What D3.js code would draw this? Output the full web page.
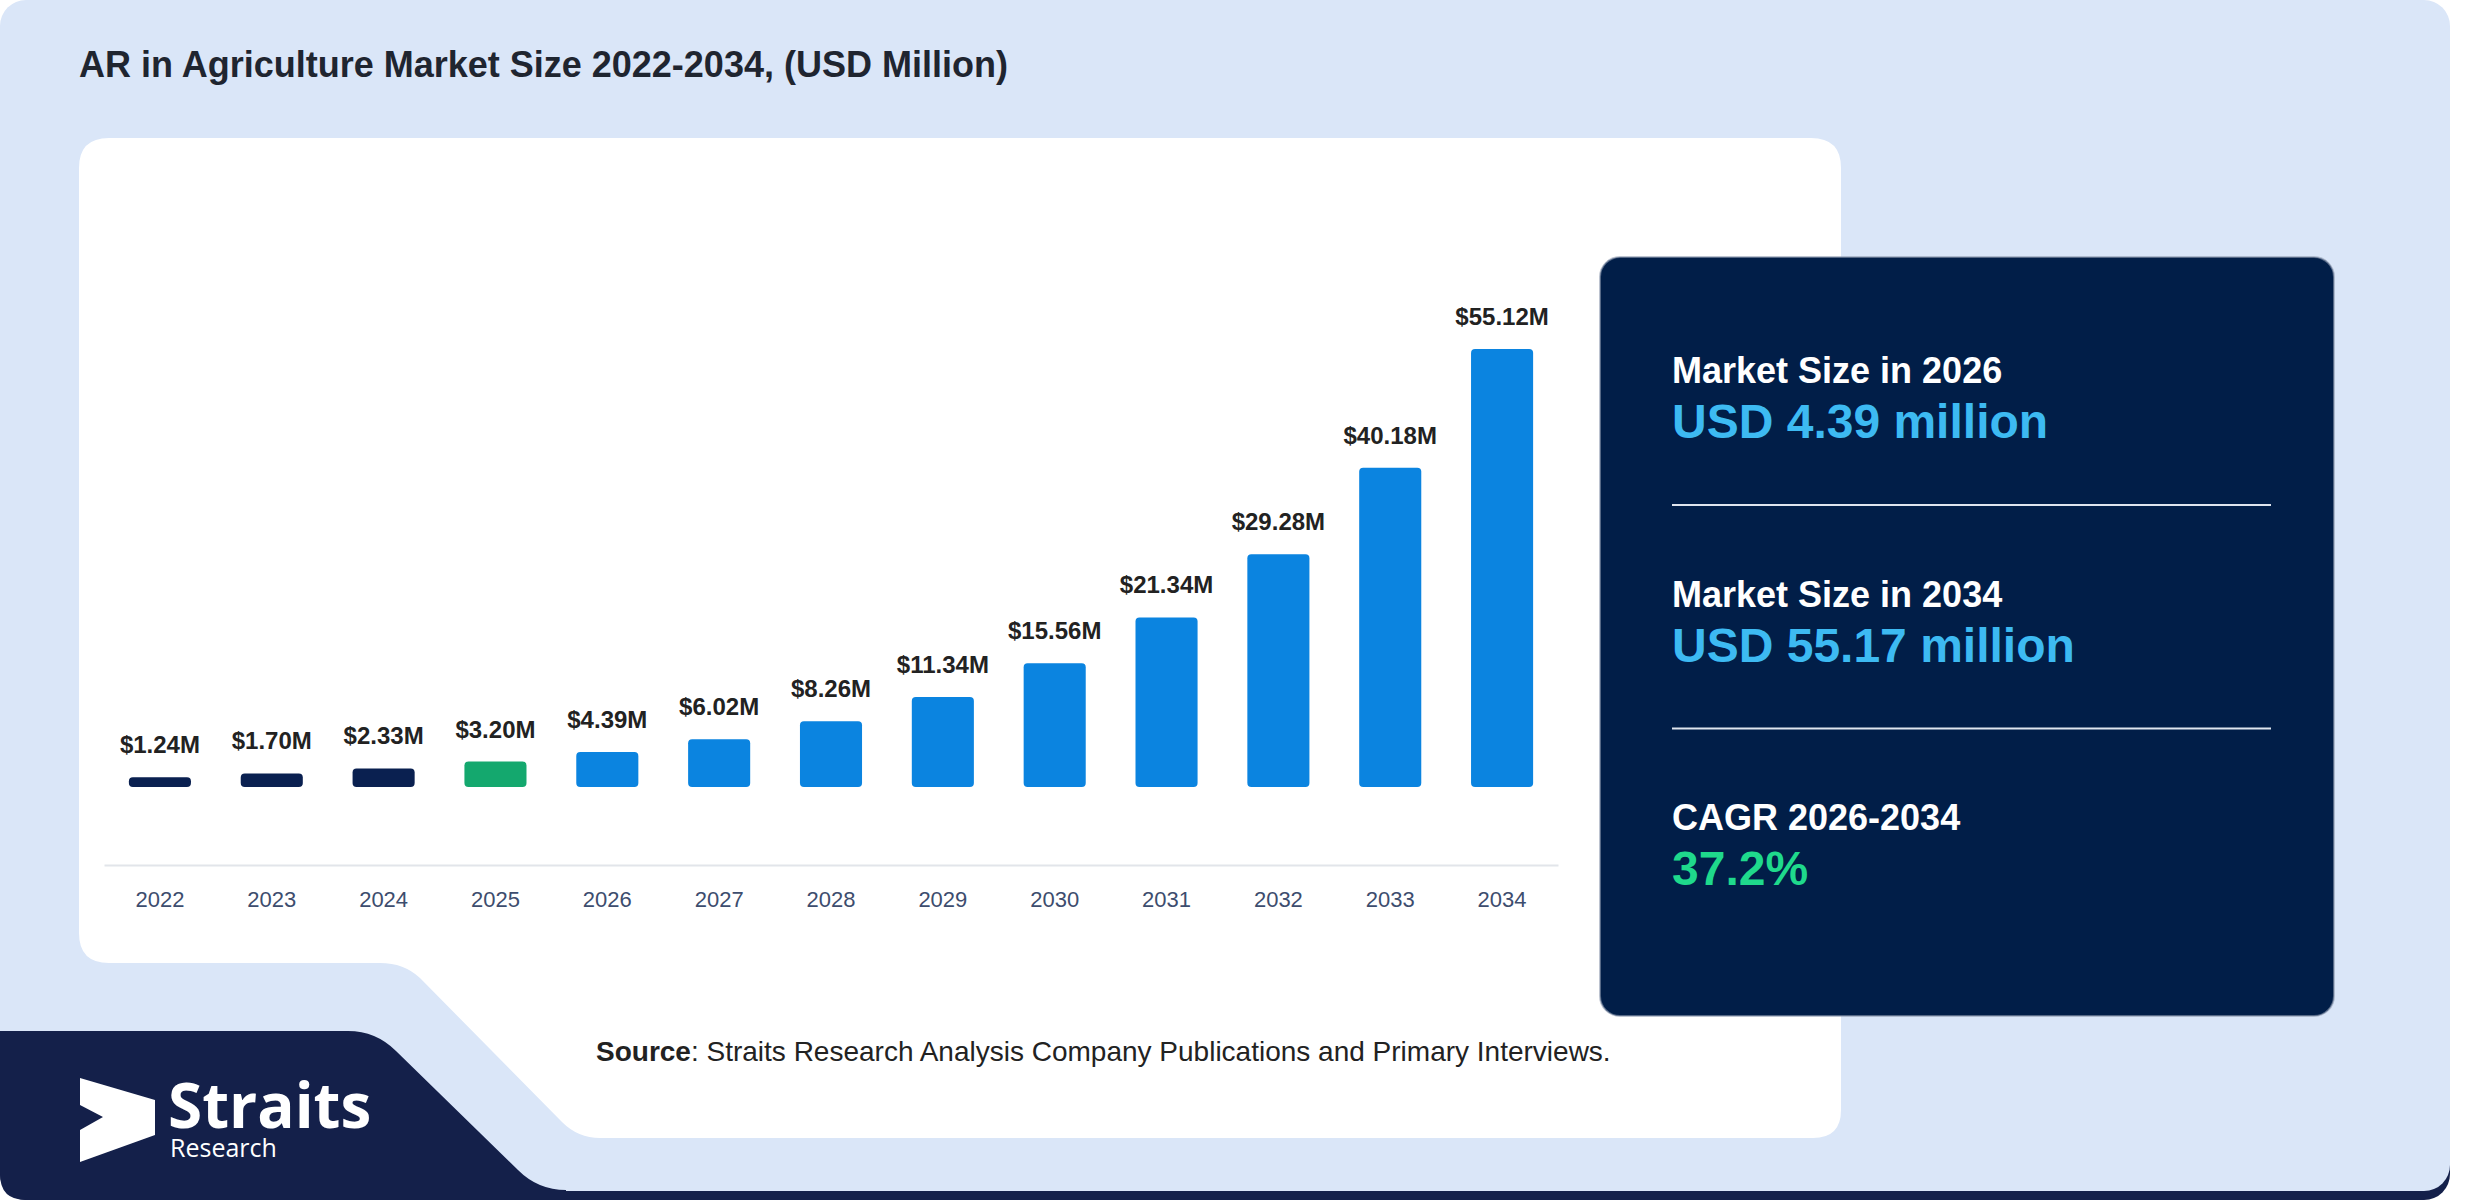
<!DOCTYPE html>
<html>
<head>
<meta charset="utf-8">
<script src="https://cdn.jsdelivr.net/npm/d3@7"></script>
<style>
  body { margin: 0; background: #ffffff; }
  svg { display: block; font-family: "Liberation Sans", Arial, sans-serif; }
</style>
</head>
<body>
<svg width="2480" height="1200"></svg>
<script>
// data
const years = ['2022', '2023', '2024', '2025', '2026', '2027', '2028', '2029', '2030', '2031', '2032', '2033', '2034']
const values = [1.24, 1.70, 2.33, 3.20, 4.39, 6.02, 8.26, 11.34, 15.56, 21.34, 29.28, 40.18, 55.12]
const statLabels = ['Market Size in 2026', 'Market Size in 2034', 'CAGR 2026-2034']
const statValues = ['USD 4.39 million', 'USD 55.17 million', '37.2%']
const baseYear = '2025'

const svg = d3.select('svg')

// achtergrond kaart met donkere onderrand
svg.append('rect')
    .attr('x', 0).attr('y', 20).attr('width', 2450).attr('height', 1180)
    .attr('rx', 26).attr('fill', '#14204a')
svg.append('rect')
    .attr('x', 0).attr('y', 0).attr('width', 2450).attr('height', 1191)
    .attr('rx', 26).attr('fill', '#dae6f8')

// witte panel met schuine hoek linksonder
svg.append('path')
    .attr('fill', '#ffffff')
    .attr('d', 'M109,138 L1811,138 Q1841,138 1841,168 L1841,1110 Q1841,1138 1813,1138 ' +
        'L600,1138 Q578,1138 562,1122 L420,978 Q404,963 380,963 L109,963 Q79,963 79,933 L79,168 Q79,138 109,138 Z')

// logo blok
svg.append('path')
    .attr('fill', '#14204a')
    .attr('d', 'M0,1031 L348,1031 Q376,1031 396,1051 L518,1170 Q538,1190 566,1190 L566,1200 L26,1200 Q0,1200 0,1174 Z')

svg.append('text')
    .attr('x', 79).attr('y', 77)
    .attr('font-size', 36).attr('font-weight', 700)
    .attr('fill', '#1f2530')
    .text('AR in Agriculture Market Size 2022-2034, (USD Million)')

// schalen
const x = d3.scaleBand()
    .domain(years)
    .range([104, 1558])
    .paddingInner(0.445)
    .paddingOuter(0.2225)

const y = d3.scaleLinear()
    .domain([0, d3.max(values)])
    .range([787, 349])

const barColor = yr => yr < baseYear ? '#0a2050' : (yr === baseYear ? '#14a86e' : '#0b84e0')

const g = svg.append('g')

// x-as
const axis = g.append('g')
    .attr('transform', 'translate(0,865)')
    .call(d3.axisBottom(x).tickSize(0).tickPadding(26))
axis.select('.domain').attr('stroke', '#e2e5ea').attr('stroke-width', 2)
axis.selectAll('text')
    .attr('font-size', 22)
    .attr('font-family', '"Liberation Sans", Arial, sans-serif')
    .attr('fill', '#3d4d6e')

// bars
g.selectAll('rect.bar').data(values)
    .enter()
    .append('rect')
        .attr('class', 'bar')
        .attr('x', (d, i) => x(years[i]))
        .attr('y', d => y(d))
        .attr('width', x.bandwidth())
        .attr('height', d => y(0) - y(d))
        .attr('rx', 4)
        .attr('fill', (d, i) => barColor(years[i]))

// waarde labels
g.selectAll('text.val').data(values)
    .enter()
    .append('text')
        .attr('class', 'val')
        .attr('x', (d, i) => x(years[i]) + x.bandwidth() / 2)
        .attr('y', d => y(d) - 24)
        .attr('text-anchor', 'middle')
        .attr('font-size', 24).attr('font-weight', 700)
        .attr('fill', '#222222')
        .text(d => '$' + d.toFixed(2) + 'M')

// bron
const src = svg.append('text')
    .attr('x', 596).attr('y', 1061)
    .attr('font-size', 28).attr('fill', '#222222')
src.append('tspan').attr('font-weight', 700).text('Source')
src.append('tspan').text(': Straits Research Analysis Company Publications and Primary Interviews.')

// donker panel rechts
svg.append('rect')
    .attr('x', 1600).attr('y', 257).attr('width', 734).attr('height', 759)
    .attr('rx', 20)
    .attr('fill', '#011e48')
    .attr('stroke', '#8f9bb0').attr('stroke-opacity', 0.6).attr('stroke-width', 2)

const stats = svg.append('g').attr('transform', 'translate(1672,0)')
statLabels.forEach((lab, i) => {
    const top = 383 + i * 223.5
    stats.append('text')
        .attr('y', top)
        .attr('font-size', 36).attr('font-weight', 700)
        .attr('fill', '#ffffff')
        .text(lab)
    stats.append('text')
        .attr('y', top + 55)
        .attr('font-size', 48).attr('font-weight', 700)
        .attr('fill', i === 2 ? '#1fd98c' : '#3dbaf2')
        .text(statValues[i])
    if (i < 2) {
        stats.append('line')
            .attr('x1', 0).attr('x2', 599)
            .attr('y1', top + 122).attr('y2', top + 122)
            .attr('stroke', '#dfe5ee').attr('stroke-width', 2)
    }
})

// logo
const logo = svg.append('g')
logo.append('path')
    .attr('fill', '#ffffff')
    .attr('d', 'M80,1078 L155,1100 L155,1135 L80,1162 L80,1130 L103,1117 L80,1105 Z')
logo.append('text')
    .attr('x', 168).attr('y', 1128)
    .attr('font-family', '"Open Sans", sans-serif')
    .attr('font-size', 62).attr('font-weight', 700)
    .attr('fill', '#ffffff')
    .text('Straits')
logo.append('text')
    .attr('x', 170).attr('y', 1157)
    .attr('font-family', '"Open Sans", sans-serif')
    .attr('font-size', 25)
    .attr('fill', '#ffffff')
    .text('Research')
</script>
</body>
</html>
